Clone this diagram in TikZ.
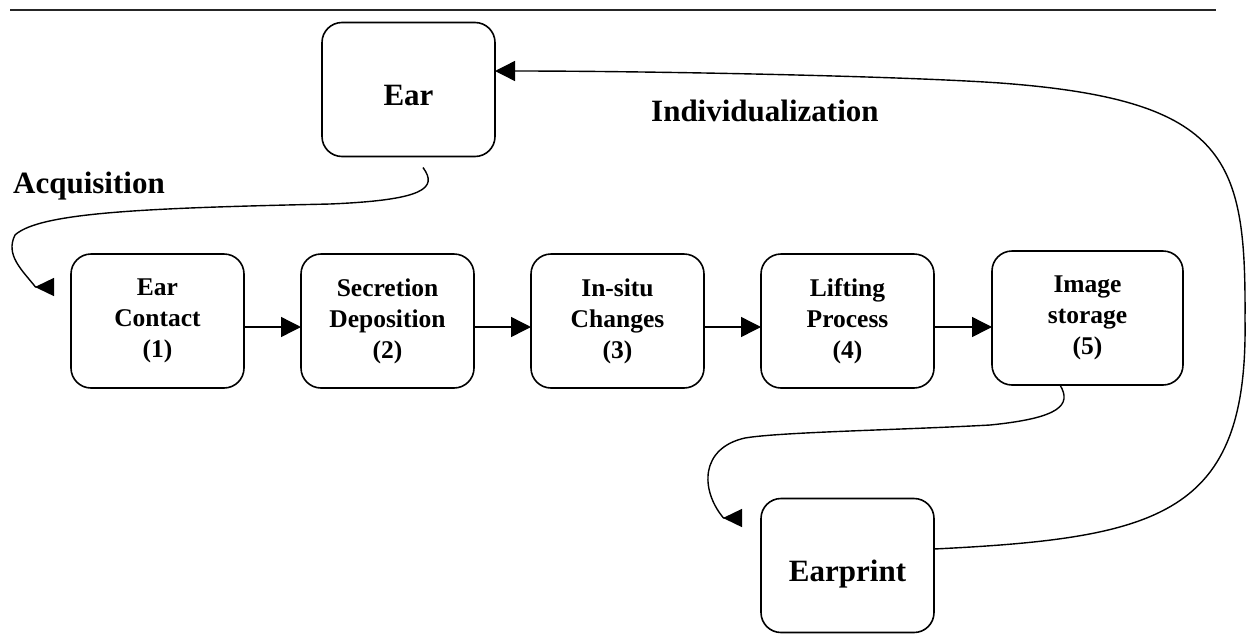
\documentclass[tikz,border=0pt]{standalone}
\usepackage{fontspec}
\setmainfont{Liberation Serif}
\usetikzlibrary{arrows.meta}
\newcommand\bxfont{\fontsize{25.5}{31}\selectfont\bfseries}
\newcommand\lblfont{\fontsize{31}{37}\selectfont\bfseries}
\begin{document}
\begin{tikzpicture}[x=1pt,y=-1pt,
  box/.style={draw, line width=1.6pt, rounded corners=20pt, inner sep=0pt, outer sep=0pt,
    minimum width=173pt, minimum height=134pt, align=center, font=\bxfont},
  bigbox/.style={box, font=\lblfont, text height=32pt, text depth=0pt},
  conn/.style={line width=1.4pt},
  tiphead/.style={-{Triangle[length=20pt,width=20pt]}},
  curvehead/.style={-{Triangle[length=19pt,width=18pt]}},
  lbl/.style={font=\lblfont, inner sep=0pt, anchor=base west}]
\useasboundingbox[fill=white] (0,0) rectangle (1246,635);
% top rule
\draw[line width=1.2pt, black!85] (10,10) -- (1216,10);
% nodes
\node[bigbox] (ear) at (408.5,89.5) {Ear};
\node[box] (b1) at (157.5,321) {Ear\\Contact\\(1)};
\node[box] (b2) at (387.5,321) {Secretion\\Deposition\\(2)};
\node[box] (b3) at (617.5,321) {In-situ\\Changes\\(3)};
\node[box] (b4) at (847.5,321) {Lifting\\Process\\(4)};
\node[box, minimum width=191pt] (b5) at (1087.5,318) {Image\\storage\\(5)};
\node[bigbox] (earprint) at (847.5,565.5) {Earprint};
\node[lbl] (acq) at (13,193) {Acquisition};
\node[lbl] (ind) at (651,121) {Individualization};
\coordinate (acqend) at (35,287);
\coordinate (epend) at (723,518);
% straight arrows
\draw[conn,tiphead] ([yshift=-6pt]b1.east) -- ([yshift=-6pt]b2.west);
\draw[conn,tiphead] ([yshift=-6pt]b2.east) -- ([yshift=-6pt]b3.west);
\draw[conn,tiphead] ([yshift=-6pt]b3.east) -- ([yshift=-6pt]b4.west);
\draw[conn,tiphead] ([yshift=-6pt]b4.east) -- ([yshift=-9pt]b5.west);
% acquisition curve
\draw[conn,curvehead] ([xshift=14.5pt,yshift=-11pt]ear.south)
  .. controls (438,188) and (425,200) .. (330,204)
  .. controls (150,208) and (40,212) .. (15,235)
  .. controls (5,255) and (22,270) .. (35.5,287) -- (acqend);
% storage to earprint curve
\draw[conn,curvehead] ([xshift=-27.5pt]b5.south)
  .. controls (1072,405) and (1060,418) .. (990,425)
  .. controls (900,430) and (780,432) .. (745,438)
  .. controls (700,448) and (700,490) .. (723.5,518) -- (epend);
% individualization curve
\draw[conn,tiphead] ([yshift=16.5pt]earprint.east)
  .. controls (1160,538) and (1248,515) .. (1245,320)
  .. controls (1246,160) and (1230,100) .. (1000,83)
  .. controls (900,76) and (650,71) .. ([yshift=18.5pt]ear.east);
\end{tikzpicture}
\end{document}
